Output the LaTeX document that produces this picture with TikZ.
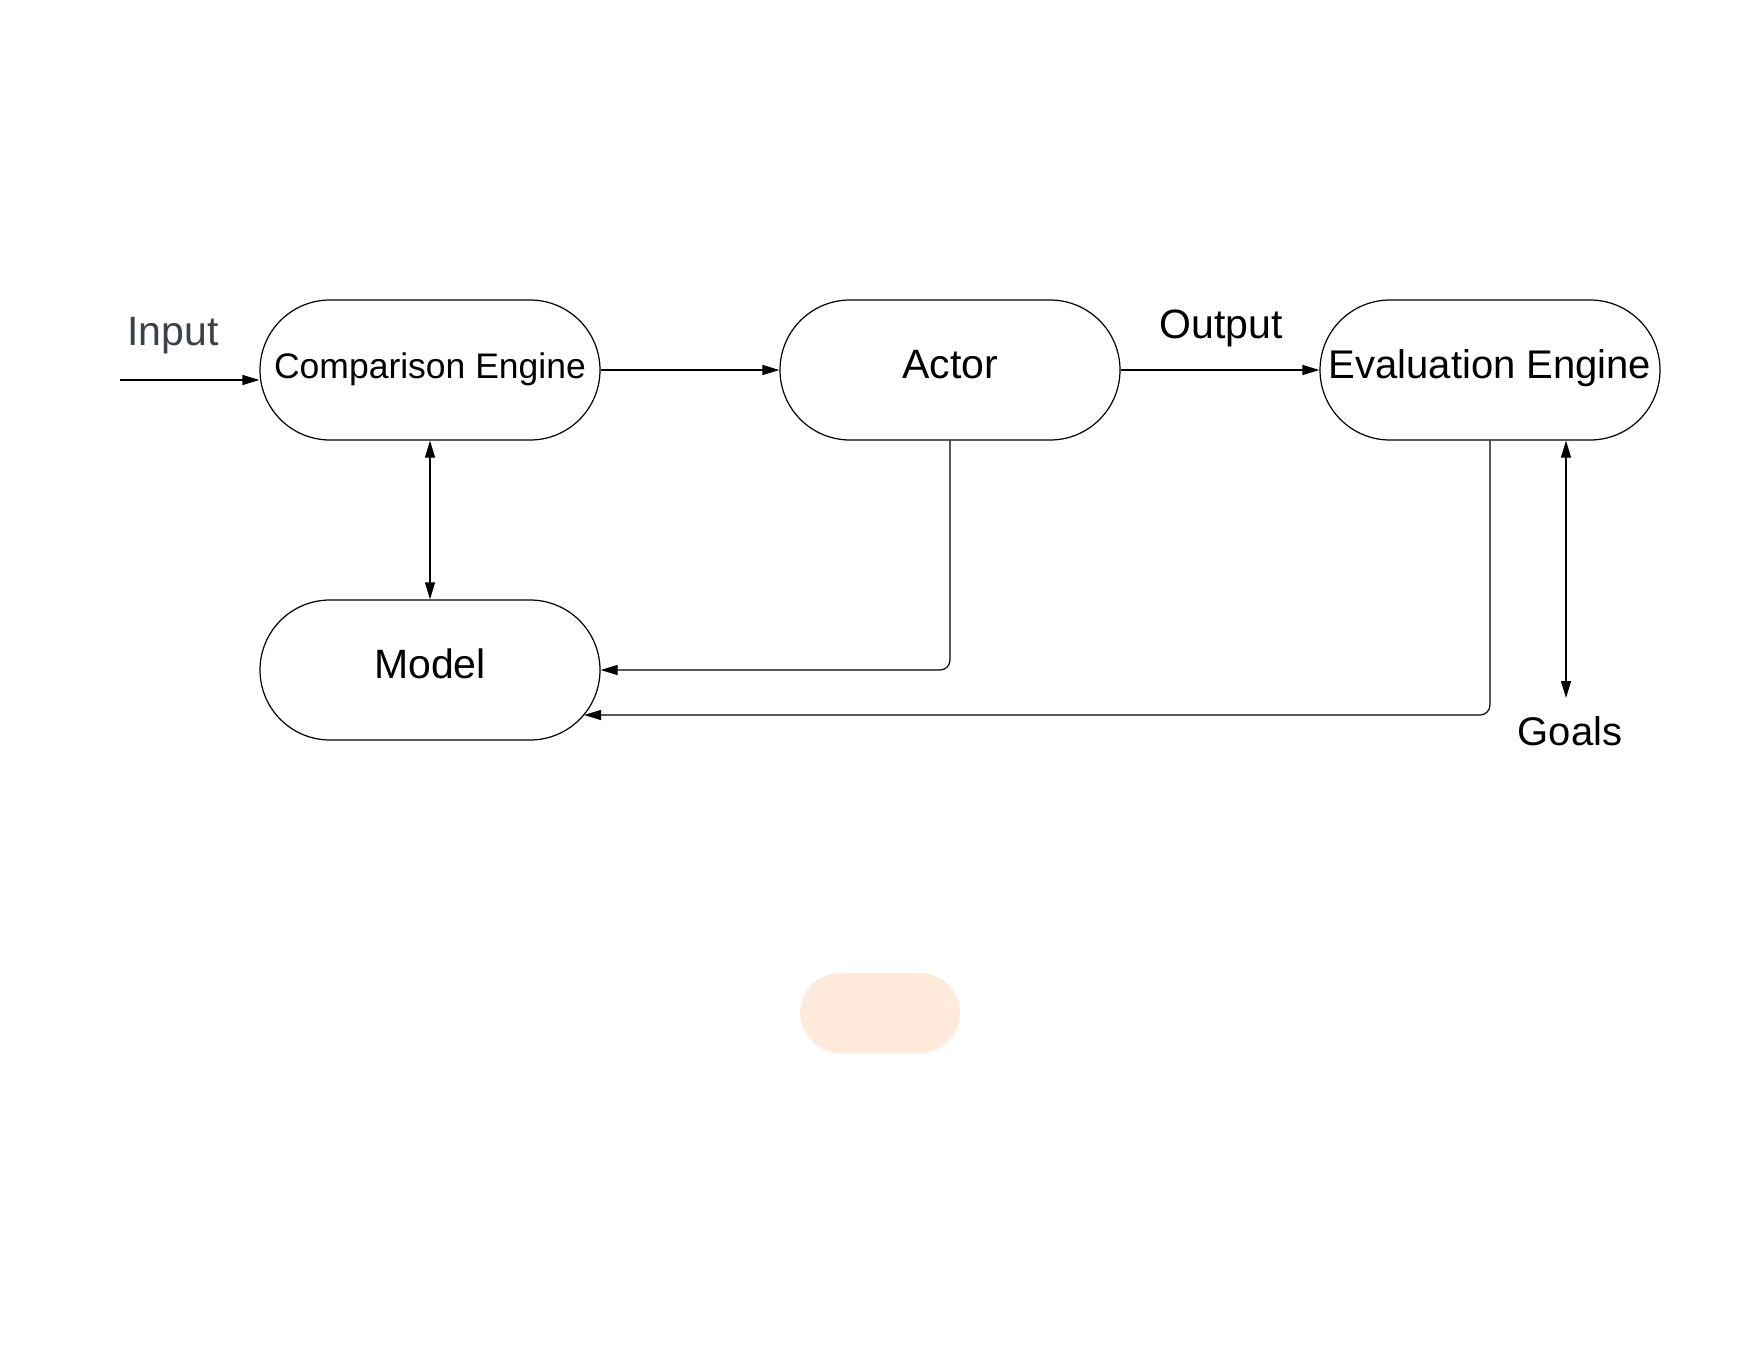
\documentclass[tikz,border=0pt]{standalone}
\usepackage{fontspec}
\setmainfont{Liberation Sans}
\usetikzlibrary{arrows.meta}
\definecolor{peach}{HTML}{FFEADC}
\definecolor{inputgray}{HTML}{3A414A}
\tikzset{
  pill/.style={draw=black, line width=1.2pt, rounded corners=70pt, minimum width=340pt, minimum height=140pt, inner sep=0pt, text height=28pt, text depth=12pt, font=\fontsize{41}{49}\selectfont},
  conn/.style={draw=black, line width=1.2pt, -{Triangle[length=17pt,width=10pt]}},
  biconn/.style={draw=black, line width=1.2pt, {Triangle[length=17pt,width=10pt]}-{Triangle[length=17pt,width=10pt]}},
  lbl/.style={anchor=base, inner sep=0pt, font=\fontsize{41}{49}\selectfont}
}
\begin{document}
\begin{tikzpicture}[x=1pt,y=-1pt]
\useasboundingbox (0,0) rectangle (1760,1360);
\fill[white] (0,0) rectangle (1760,1360);
\node[pill, font=\fontsize{35.5}{43}\selectfont] (ce) at (430,370) {Comparison Engine};
\node[pill] (actor) at (950,370) {Actor};
\node[pill, font=\fontsize{40}{48}\selectfont] (ee) at (1490,370) {Evaluation Engine};
\node[pill] (model) at (430,670) {Model};
\node[fill=peach, rounded corners=40pt, minimum width=160pt, minimum height=80pt, inner sep=0pt] (blob) at (880,1013) {};
\node[lbl, text=inputgray] (inputlbl) at (173,345) {Input};
\node[lbl] (outputlbl) at (1221,338) {Output};
\node[lbl, font=\fontsize{40}{48}\selectfont] (goalslbl) at (1570,745) {Goals};
\coordinate (in) at (120,380);
\coordinate (m2) at (584,715);
\coordinate (g) at (1566,698);
\draw[conn] (in) -- (in -| ce.west);
\draw[conn] (ce.east) -- (actor.west);
\draw[conn] (actor.east) -- (ee.west);
\draw[biconn] (ce.south) -- (model.north);
\draw[conn, rounded corners=10pt] (actor.south) |- (model.east);
\draw[conn, rounded corners=10pt] (ee.south) |- (m2);
\draw[biconn] (g |- ee.south) -- (g);
\end{tikzpicture}
\end{document}
